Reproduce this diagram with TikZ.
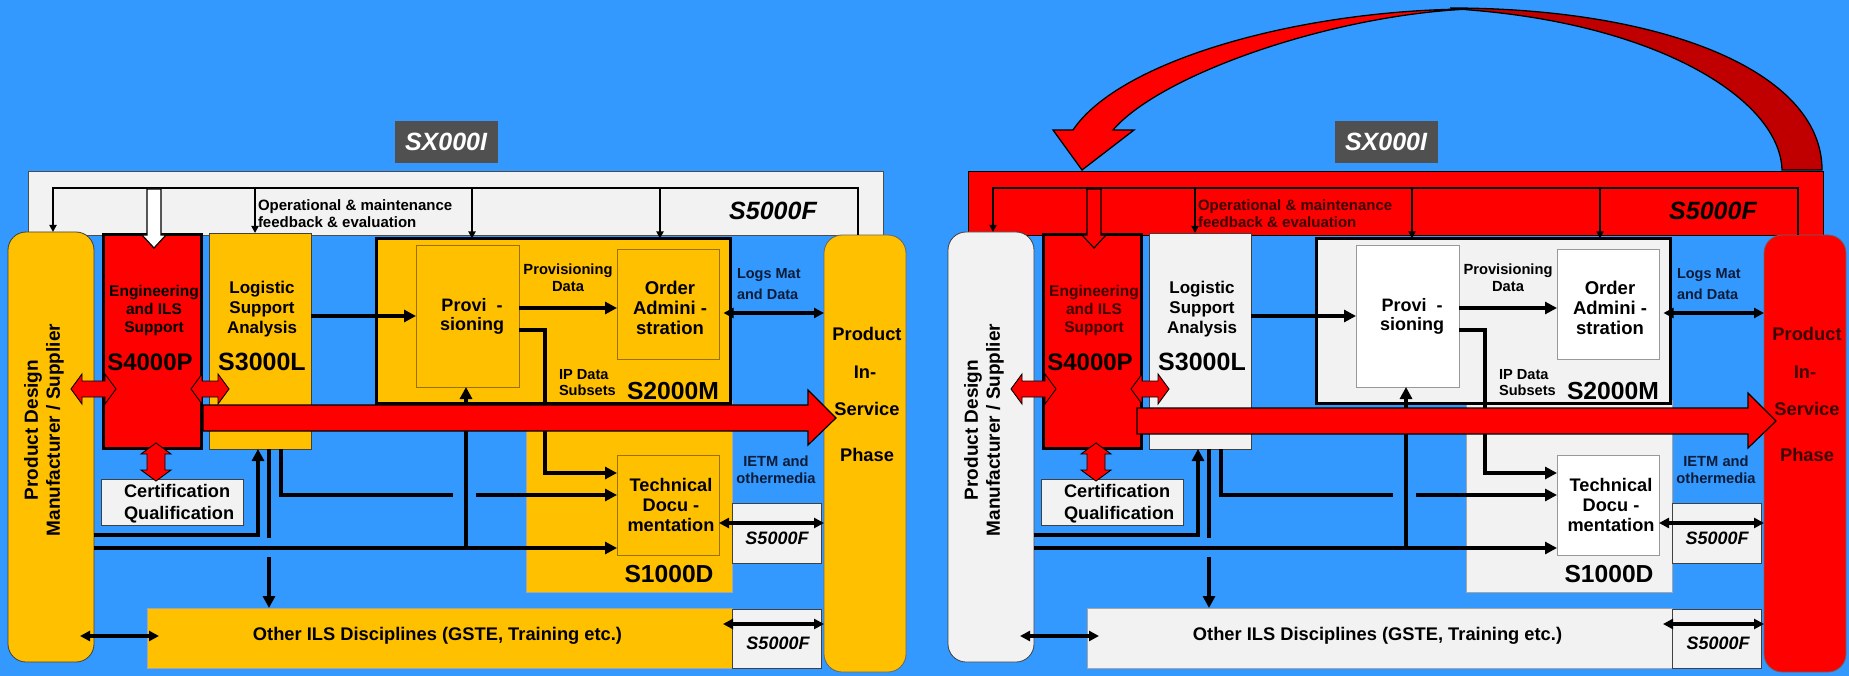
\documentclass[tikz,border=0pt]{standalone}
\usepackage{fontspec}
\setmainfont{Liberation Sans}
\usetikzlibrary{arrows.meta}
\definecolor{bgblue}{RGB}{51,153,255}
\definecolor{yel}{RGB}{255,192,0}
\definecolor{lg}{RGB}{242,242,242}
\definecolor{rd}{RGB}{255,0,0}
\definecolor{drd}{RGB}{192,0,0}
\definecolor{sxgray}{RGB}{80,80,80}
\definecolor{navytxt}{RGB}{12,28,56}
\definecolor{maroontxt}{RGB}{60,0,0}
\definecolor{ybord}{RGB}{150,115,0}
\newcommand\fs[2]{\fontsize{#1}{#2}\selectfont\bfseries}
\newcommand\bx[6]{\node[#6,anchor=north west,inner sep=0pt,outer sep=0pt,minimum width={(#4-#2)*1pt},minimum height={(#5-#3)*1pt}] (#1) at (#2,#3) {};}
\tikzset{
  thinbox/.style={draw=black!75,line width=0.8pt},
  thickbox/.style={draw=black,line width=3pt},
  conn/.style={line width=3.3pt,draw=black},
  tip/.style={-{Triangle[length=12pt,width=12pt]}},
  dtip/.style={{Triangle[length=10pt,width=10pt]}-{Triangle[length=10pt,width=10pt]}},
  fbl/.style={line width=2.8pt,draw=black},
  fbtip/.style={line width=2.3pt,draw=black,-{Triangle[length=7pt,width=7pt]}},
  fat/.style={fill=rd,draw=black,line width=1.2pt,line join=miter},
  txt/.style={inner sep=0pt,outer sep=0pt,align=center,text=black},
}
\newcommand\panel[1]{%
% S5000F band and SX000I label
\bx{#1band}{28}{172}{883}{236}{fill=bandC,draw=bandD,line width=1pt}
\node[fill=sxgray,minimum width=103pt,minimum height=42pt,inner sep=0pt,text=white,font=\fs{25}{28}\itshape] (#1sx) at (446,142) {SX000I};
% boxes
\bx{#1pd}{8}{232}{94}{662}{fill=pdC,thinbox,rounded corners=18pt}
\bx{#1ep}{103.5}{234.5}{201.5}{448.5}{fill=rd,thickbox}
\bx{#1lsa}{209}{233}{311}{449}{fill=lsaC,thinbox}
\bx{#1sd}{526}{400}{732}{592}{fill=sdC,draw=black!35,line width=0.6pt}
\bx{#1sm}{376.5}{238.5}{730.5}{403}{fill=smC,thickbox}
\bx{#1prov}{416}{245}{519}{387}{fill=provC,draw=inB,line width=0.8pt}
\bx{#1oa}{617}{249}{719}{359}{fill=provC,draw=inB,line width=0.8pt}
\bx{#1td}{617}{455}{719}{555}{fill=provC,draw=inB,line width=0.8pt}
\bx{#1oi}{147}{608}{732}{668}{fill=oiC,draw=black!35,line width=0.6pt}
\bx{#1fa}{732}{503}{821}{563}{fill=lg,thinbox}
\bx{#1fb}{732}{609}{821}{668}{fill=lg,thinbox}
\bx{#1pis}{824}{235}{906}{672}{fill=pisC,draw=black!60,line width=0.8pt,rounded corners=18pt}
\bx{#1cq}{101}{479}{243}{525}{fill=lg,thinbox}
% feedback lines
\coordinate (#1fL) at (53,188);
\coordinate (#1fR) at (858,188);
\coordinate (#1f1) at (255,188);
\coordinate (#1f2) at (472,188);
\coordinate (#1f3) at (660,188);
\draw[fbl,-{Triangle[length=7pt,width=7pt]}] (#1fR |- #1pis.north) -- (#1fR) -- (#1fL) -- (#1fL |- #1pd.north);
\draw[fbtip] (#1f1) -- (#1f1 |- #1lsa.north);
\draw[fbtip] (#1f2) -- (#1f2 |- #1sm.north);
\draw[fbtip] (#1f3) -- (#1f3 |- #1sm.north);
% fat arrow into S4000P
\draw[fill=wC,draw=black,line width=1.2pt,line join=miter] (147,189) -- (147,235) -- (142,235) -- (154,248) -- (166,235) -- (161,235) -- (161,189) -- cycle;
% connectors
\draw[conn,tip] (#1lsa.east |- 0,316) -- (#1prov.west |- 0,316);
\draw[conn,tip] (#1prov.east |- 0,308) -- (#1oa.west |- 0,308);
\coordinate (#1p1) at (545,330);
\coordinate (#1p2) at (545,473);
\draw[conn,tip] (#1prov.east |- #1p1) -- (#1p1) -- (#1p2) -- (#1td.west |- #1p2);
\draw[conn,dtip] ([xshift=-7pt]#1sm.east |- 0,313) -- (#1pis.west |- 0,313);
\draw[conn,dtip] (#1td.east |- 0,523) -- (#1pis.west |- 0,523);
\draw[conn,dtip] ([xshift=-9pt]#1fb.west |- 0,624) -- (#1pis.west |- 0,624);
\draw[conn,dtip] ([xshift=-14pt]#1pd.east |- 0,636) -- ([xshift=12pt]#1oi.west |- 0,636);
\coordinate (#1k1) at (258,535);
\draw[conn,tip] (#1pd.east |- #1k1) -- (#1k1) -- (#1k1 |- #1lsa.south);
\coordinate (#1k2) at (269,538);
\coordinate (#1k3) at (269,557);
\draw[conn] (#1k2 |- #1lsa.south) -- (#1k2);
\draw[conn,tip] (#1k3) -- (#1k3 |- #1oi.north);
\coordinate (#1k4) at (281,495);
\coordinate (#1k5) at (453,495);
\coordinate (#1k6) at (476,495);
\draw[conn] (#1k4 |- #1lsa.south) -- (#1k4) -- (#1k5);
\draw[conn,tip] (#1k6) -- (#1td.west |- #1k6);
\coordinate (#1k7) at (466,548);
\draw[conn,tip] (#1pd.east |- #1k7) -- (#1td.west |- #1k7);
\draw[conn,tip] (#1k7) -- (#1k7 |- #1prov.south);
% big red arrow
\draw[fat] (\rax,{405+\ray}) -- (808,{405+\ray}) -- (808,{390+\ray}) -- (836,{418+\ray}) -- (808,{445+\ray}) -- (808,{431+\ray}) -- (\rax,{431+\ray}) -- cycle;
% small red double arrows
\draw[fat,line width=0.9pt] (71,389) -- (82,374) -- (82,381) -- (105,381) -- (105,374) -- (116,389) -- (105,404) -- (105,397) -- (82,397) -- (82,404) -- cycle;
\draw[fat,line width=0.9pt] (191,389) -- (202,374) -- (202,381) -- (218,381) -- (218,374) -- (229,389) -- (218,404) -- (218,397) -- (202,397) -- (202,404) -- cycle;
\draw[fat,line width=0.9pt] (156,443) -- (171,454) -- (165,454) -- (165,470) -- (171,470) -- (156,481) -- (141,470) -- (147,470) -- (147,454) -- (141,454) -- cycle;
% texts
\node[txt,anchor=west,align=left,text=opT,font=\fs{15}{17}] (#1opt) at (258,214) {Operational \& maintenance\\feedback \& evaluation};
\node[txt,font=\fs{25}{28}\itshape] (#1s5) at (773,211) {S5000F};
\node[txt,rotate=90,font=\fs{19}{22}] (#1pdt) at (44,430) {Product Design\\Manufacturer / Supplier};
\node[txt,text=engT,font=\fs{15.5}{18}] (#1engt) at (154,310) {Engineering\\and ILS\\Support};
\node[txt,font=\fs{24}{28}] (#1s4) at (150,362) {S4000P};
\node[txt,font=\fs{17}{20}] (#1lsat) at (262,309) {Logistic\\Support\\Analysis};
\node[txt,font=\fs{25}{28}] (#1s3) at (262,362) {S3000L};
\node[txt,font=\fs{18}{19}] (#1provt) at (472,316) {Provi~~-\\sioning};
\node[txt,font=\fs{14.7}{17}] (#1pdat) at (568,278) {Provisioning\\Data};
\node[txt,font=\fs{18.5}{20}] (#1oat) at (670,308) {Order\\Admini -\\stration};
\node[txt,font=\fs{24.7}{28}] (#1s2) at (673,391) {S2000M};
\node[txt,anchor=west,align=left,font=\fs{14.6}{16}] (#1ipd) at (559,383) {IP Data\\Subsets};
\node[txt,anchor=west,align=left,text=navytxt,font=\fs{14.5}{21}] (#1logs) at (737,284) {Logs Mat\\and Data};
\node[txt,text=pisT,font=\fs{18.3}{20}] (#1pisA) at (867,334) {Product};
\node[txt,text=pisT,font=\fs{18.3}{20}] (#1pisB) at (865,372) {In-};
\node[txt,text=pisT,font=\fs{18.3}{20}] (#1pisC) at (867,409) {Service};
\node[txt,text=pisT,font=\fs{18.3}{20}] (#1pisD) at (867,455) {Phase};
\node[txt,font=\fs{18.2}{20}] (#1tdt) at (671,505) {Technical\\Docu -\\mentation};
\node[txt,font=\fs{24.6}{28}] (#1s1) at (669,574) {S1000D};
\node[txt,text=navytxt,font=\fs{14.7}{17}] (#1ietm) at (776,470) {IETM and\\othermedia};
\node[txt,font=\fs{18}{20}\itshape] (#1fat) at (777,538) {S5000F};
\node[txt,font=\fs{18}{20}\itshape] (#1fbt) at (778,643) {S5000F};
\node[txt,font=\fs{18.3}{20}] (#1oit) at (437.5,636) {Other ILS Disciplines (GSTE, Training etc.)};
\node[txt,anchor=west,align=left,font=\fs{18.2}{22}] (#1cqt) at (124,504) {Certification\\Qualification};
}
\begin{document}
\begin{tikzpicture}[x=1pt,y=-1pt]
\useasboundingbox (0,0) rectangle (1849,676);
\fill[bgblue] (0,0) rectangle (1849,676);
\begin{scope}
\colorlet{bandC}{lg}\colorlet{bandD}{black!70}
\colorlet{pdC}{yel}\colorlet{lsaC}{yel}\colorlet{smC}{yel}\colorlet{provC}{yel}
\colorlet{inB}{ybord}\colorlet{sdC}{yel}\colorlet{oiC}{yel}\colorlet{pisC}{yel}
\colorlet{wC}{white}\colorlet{opT}{black}\colorlet{engT}{black}\colorlet{pisT}{black}
\def\rax{203}\def\ray{0}
\panel{L}
\end{scope}
\begin{scope}[xshift=940pt]
\colorlet{bandC}{rd}\colorlet{bandD}{black}
\colorlet{pdC}{lg}\colorlet{lsaC}{lg}\colorlet{smC}{lg}\colorlet{provC}{white}
\colorlet{inB}{black!40}\colorlet{sdC}{lg}\colorlet{oiC}{lg}\colorlet{pisC}{rd}
\colorlet{wC}{rd}\colorlet{opT}{maroontxt}\colorlet{engT}{maroontxt}\colorlet{pisT}{maroontxt}
\def\rax{197}\def\ray{3}
\panel{R}
\end{scope}
% curved return arrow (right panel)
\draw[fill=drd,draw=black,line width=1.3pt] (1822,170) .. controls (1822,70) and (1660,8) .. (1450,8) -- (1470,10) .. controls (1660,25) and (1780,100) .. (1782,170) -- cycle;
\draw[fill=rd,draw=black,line width=1.3pt,line join=miter] (1470,9) .. controls (1300,10) and (1120,60) .. (1073,130) -- (1053,130) -- (1082,170) -- (1134,130) -- (1113,130) .. controls (1160,75) and (1330,15) .. (1470,9) -- cycle;
\end{tikzpicture}
\end{document}
